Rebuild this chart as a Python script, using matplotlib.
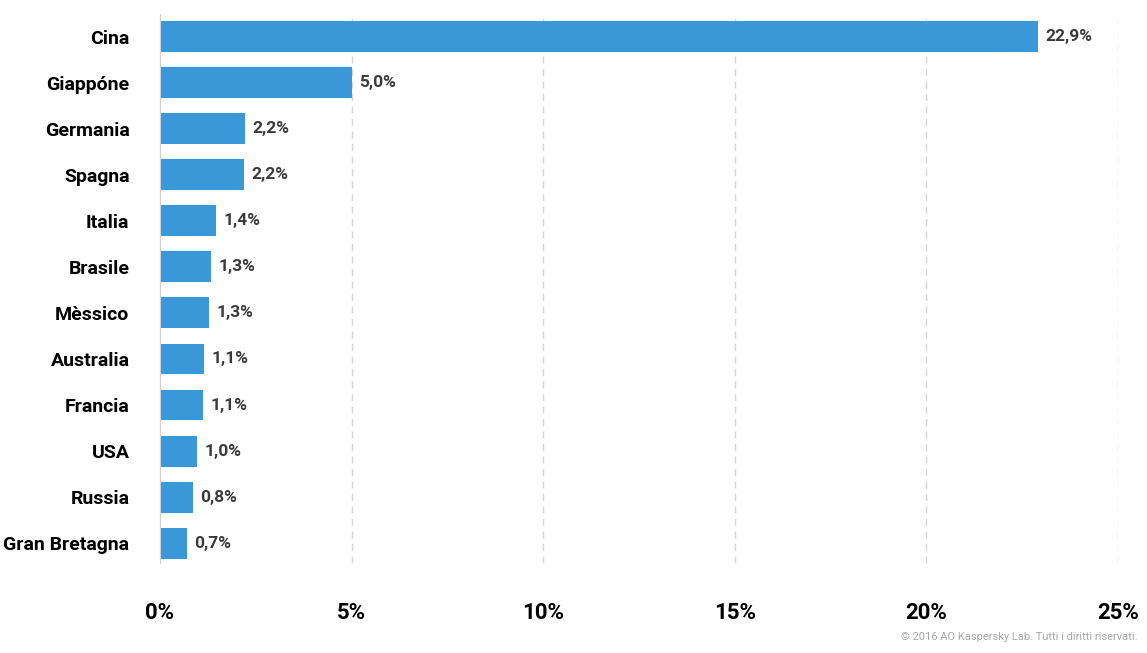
import matplotlib
matplotlib.use("Agg")
from matplotlib import pyplot as plt

countries = ["Cina", "Giappóne", "Germania", "Spagna", "Italia", "Brasile",
             "Mèssico", "Australia", "Francia", "USA", "Russia", "Gran Bretagna"]
shares = [22.9, 5.0, 2.22, 2.19, 1.46, 1.33, 1.28, 1.15, 1.12, 0.97, 0.86, 0.70]
share_labels = ["22,9%", "5,0%", "2,2%", "2,2%", "1,4%", "1,3%",
                "1,3%", "1,1%", "1,1%", "1,0%", "0,8%", "0,7%"]
xticks = [0, 5, 10, 15, 20, 25]

font = "Roboto"
blue = "#3a98d8"

fig = plt.figure(figsize=(11.47, 6.53), dpi=100)
ax = fig.add_axes([0.1395, 0.1378, 0.8352, 0.8408])

y = list(range(len(countries)))
ax.barh(y, shares, height=0.67, color=blue, zorder=2)
for yi, v, lab in zip(y, shares, share_labels):
    ax.text(v + 0.2, yi, lab, va="center", ha="left", fontsize=12.5,
            fontweight="bold", color="#3a3a3a", family=font)

ax.set_xlim(0, 25)
ax.set_ylim(11.43, -0.49)
ax.set_yticks(y)
ax.set_yticklabels(countries, fontsize=14, fontweight="bold", family=font)
ax.set_xticks(xticks)
ax.set_xticklabels([f"{t}%" for t in xticks], fontsize=16, fontweight="bold", family=font)
ax.tick_params(axis="both", length=0, colors="black")
ax.tick_params(axis="y", pad=22)
ax.tick_params(axis="x", pad=28)

for t in xticks[1:]:
    ax.axvline(t, color="#d5d5d5", lw=1, ls=(0, (5, 4)), zorder=1)

for s in ["top", "right", "bottom"]:
    ax.spines[s].set_visible(False)
ax.spines["left"].set_color("#d0d0d0")

fig.text(0.9913, 0.0245, "© 2016 AO Kaspersky Lab. Tutti i diritti riservati.",
         ha="right", va="center", fontsize=8, color="#a8a8a8", family=font)

fig.savefig("out.png", dpi=100)
